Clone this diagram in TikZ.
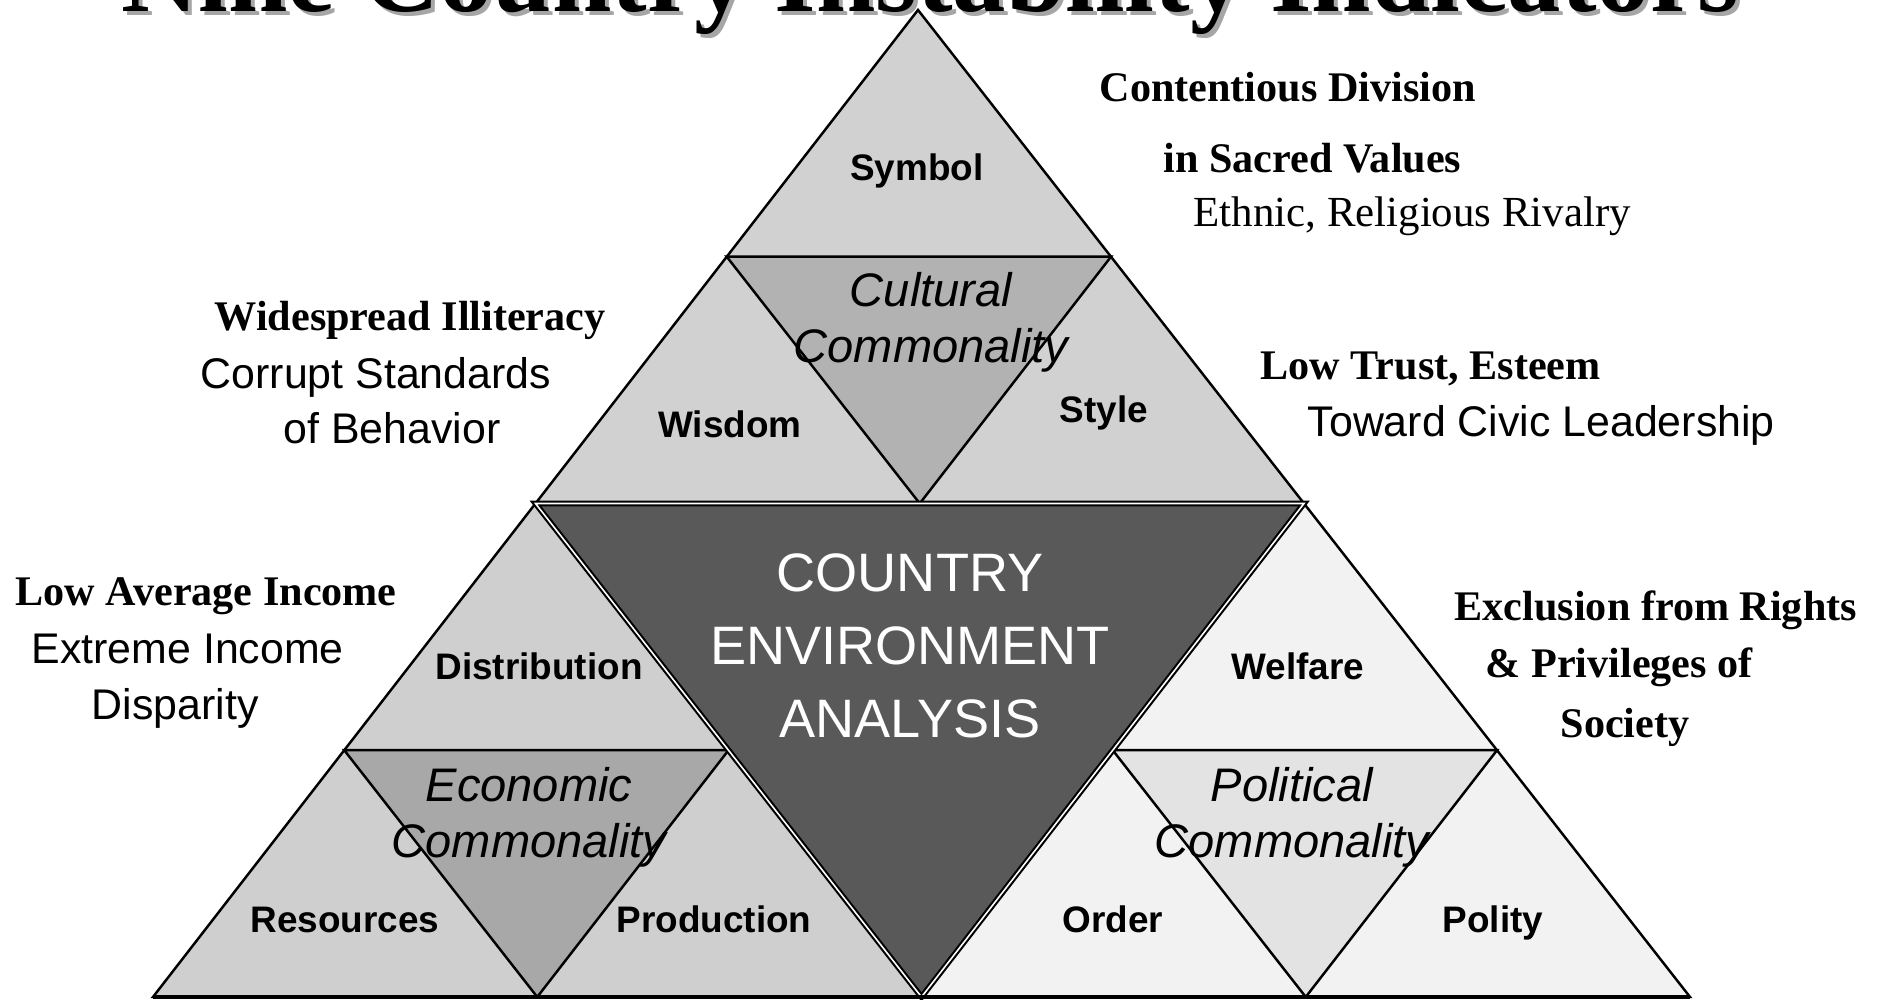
\documentclass[tikz,border=0pt]{standalone}
\usepackage{fontspec}
\setmainfont{Liberation Serif}
\setsansfont{Liberation Sans}
\usetikzlibrary{calc}

\definecolor{cultfill}{gray}{0.82}
\definecolor{cultmid}{gray}{0.70}
\definecolor{econfill}{gray}{0.81}
\definecolor{econmid}{gray}{0.66}
\definecolor{polfill}{gray}{0.95}
\definecolor{polmid}{gray}{0.89}
\definecolor{corefill}{gray}{0.35}

% corner triangle split into three tips and the inverted middle
\newcommand{\splittri}[5]{%
  \filldraw[edge, fill=#4] (#1) -- (#2) -- (#3) -- cycle;
  \filldraw[edge, fill=#5] ($(#1)!.5!(#2)$) -- ($(#1)!.5!(#3)$) -- ($(#2)!.5!(#3)$) -- cycle;
}

\begin{document}
\begin{tikzpicture}[
    edge/.style={draw=black, line width=0.7pt},
    lbl/.style={font=\sffamily\bfseries\fontsize{10.5}{12}\selectfont, anchor=base},
    common/.style={font=\sffamily\itshape\fontsize{13.4}{16.2}\selectfont, align=center, anchor=base},
    core/.style={font=\sffamily\fontsize{15.4}{20.8}\selectfont, text=white, align=center, anchor=base},
    head/.style={font=\bfseries\fontsize{12}{14}\selectfont, anchor=base west, inner sep=0pt},
    note/.style={font=\sffamily\fontsize{12.2}{14}\selectfont, anchor=base west, inner sep=0pt},
    snote/.style={font=\fontsize{12.2}{14}\selectfont, anchor=base west, inner sep=0pt},
    ttl/.style={font=\bfseries\fontsize{30.4}{34}\selectfont, anchor=base west, inner sep=0pt}
]
\useasboundingbox (0,0) rectangle (18.84,10);
\clip (0,0) rectangle (18.84,10);

% title, mostly above the page
\node[ttl, text=gray!70] (ttlshadow) at (1.25,9.84) {Nine Country Instability Indicators};
\node[ttl] (title) at (1.21,9.88) {Nine Country Instability Indicators};

% outer corners and the midpoints
\coordinate (T) at (9.18,9.90);
\coordinate (L) at (1.53,0.03);
\coordinate (R) at (16.90,0.03);
\coordinate (A) at ($(T)!.5!(L)$);
\coordinate (B) at ($(T)!.5!(R)$);
\coordinate (M) at ($(L)!.5!(R)$);

\splittri{T}{A}{B}{cultfill}{cultmid}
\splittri{A}{L}{M}{econfill}{econmid}
\splittri{B}{M}{R}{polfill}{polmid}

\filldraw[fill=corefill, draw=black, line width=0.6pt, double=white, double distance=0.45pt]
    (A) -- (B) -- (M) -- cycle;
\draw[line width=1.1pt] (L) -- (R);

% cultural
\node[lbl] (symbol) at (9.17,8.19) {Symbol};
\node[lbl] (wisdom) at (7.30,5.62) {Wisdom};
\node[lbl] (style) at (11.04,5.77) {Style};
\node[common] (cult) at (9.31,6.37) {Cultural\\Commonality};

% economic
\node[lbl] (distrib) at (5.39,3.20) {Distribution};
\node[lbl] (resources) at (3.45,0.67) {Resources};
\node[lbl] (production) at (7.14,0.67) {Production};
\node[common] (econ) at (5.29,1.42) {Economic\\Commonality};

% political
\node[lbl] (welfare) at (12.98,3.20) {Welfare};
\node[lbl] (order) at (11.13,0.67) {Order};
\node[lbl] (polity) at (14.93,0.67) {Polity};
\node[common] (polit) at (12.92,1.42) {Political\\Commonality};

\node[core] (cea) at (9.10,2.62) {COUNTRY\\ENVIRONMENT\\ANALYSIS};

% indicators round the pyramid
\node[head] (sacred1) at (10.99,8.98) {Contentious Division};
\node[head] (sacred2) at (11.63,8.27) {in Sacred Values};
\node[snote] (sacred3) at (11.93,7.73) {Ethnic, Religious Rivalry};

\node[head] (trust1) at (12.60,6.20) {Low Trust, Esteem};
\node[note] (trust2) at (13.07,5.63) {Toward Civic Leadership};

\node[head] (rights1) at (14.54,3.79) {Exclusion from Rights};
\node[head] (rights2) at (14.85,3.22) {\& Privileges of};
\node[head] (rights3) at (15.60,2.62) {Society};

\node[head] (illit1) at (2.14,6.69) {Widespread Illiteracy};
\node[note] (illit2) at (2.00,6.11) {Corrupt Standards};
\node[note] (illit3) at (2.83,5.56) {of Behavior};

\node[head] (income1) at (0.15,3.94) {Low Average Income};
\node[note] (income2) at (0.31,3.36) {Extreme Income};
\node[note] (income3) at (0.91,2.80) {Disparity};
\end{tikzpicture}
\end{document}
